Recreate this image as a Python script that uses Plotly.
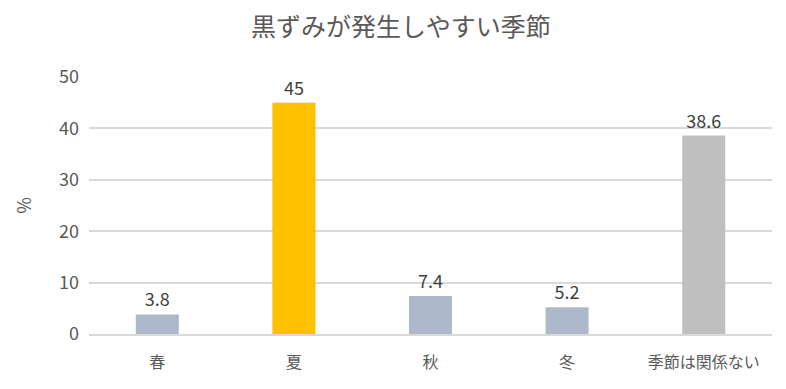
import plotly.graph_objects as go

categories = ["春", "夏", "秋", "冬", "季節は関係ない"]
values = [3.8, 45, 7.4, 5.2, 38.6]
labels = ["3.8", "45", "7.4", "5.2", "38.6"]
colors = ["#ADB9CA", "#FFC000", "#ADB9CA", "#ADB9CA", "#BFBFBF"]

font_family = "Noto Sans CJK JP, Noto Sans, sans-serif"
text_color = "#595959"

fig = go.Figure(go.Bar(
    x=categories, y=values,
    marker=dict(color=colors, line=dict(width=0)),
    text=labels, textposition="outside",
    textfont=dict(size=18, color="#404040", family=font_family),
    width=0.315, cliponaxis=False,
))

fig.update_layout(
    width=786, height=389,
    margin=dict(l=81, r=22, t=69, b=63),
    paper_bgcolor="white", plot_bgcolor="white",
    font=dict(family=font_family, color=text_color),
    title=dict(text="黒ずみが発生しやすい季節", x=0.5, xanchor="center",
               y=0.95, yanchor="middle",
               font=dict(size=25, color=text_color, family=font_family)),
    showlegend=False,
)
fig.update_xaxes(showgrid=False, showline=True, linecolor="#D9D9D9", linewidth=1.5,
                 ticks="", ticklabelstandoff=13, tickfont=dict(size=16, color=text_color))
fig.update_yaxes(range=[0, 50], dtick=10, showgrid=True, gridcolor="#D9D9D9", gridwidth=1.5,
                 zeroline=False, showline=False, ticks="", ticklabelstandoff=9,
                 tickfont=dict(size=18, color=text_color),
                 title=dict(text="%", font=dict(size=18, color=text_color), standoff=22))

fig.write_html("out.html")
